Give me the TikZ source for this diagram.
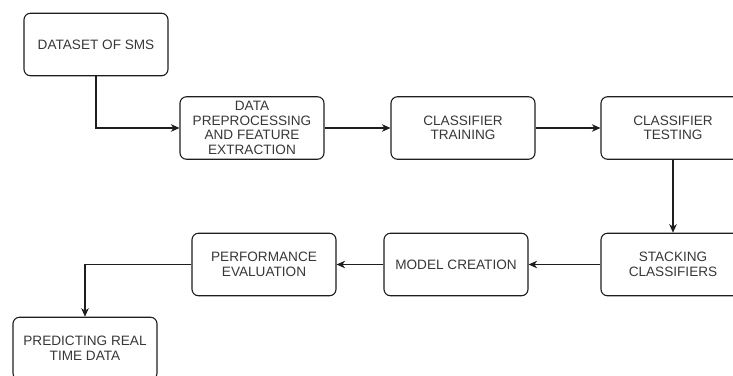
\documentclass[tikz,border=0pt]{standalone}
\usepackage{fontspec}
\setmainfont{Liberation Sans}
\usetikzlibrary{arrows.meta}
\definecolor{txt}{RGB}{55,55,55}
\definecolor{ln}{RGB}{30,30,30}
\tikzset{
  flowbox/.style={draw=ln, line width=1.1pt, rounded corners=6.5pt, minimum width=144pt, minimum height=62.5pt,
    align=center, inner sep=2pt, text=txt, font=\fontsize{13.6}{14.6}\selectfont},
  arr/.style={draw=ln, line width=1.1pt, -{Stealth[length=8.5pt,width=7.5pt,inset=2.5pt]}}
}
\begin{document}
\begin{tikzpicture}[x=1pt,y=-1pt]
\useasboundingbox (0,0) rectangle (733,375);
\clip (0,0) rectangle (733,375);
\node[flowbox] (ds) at (96,44.5) {DATASET OF SMS};
\node[flowbox] (dp) at (252,128) {DATA\\PREPROCESSING\\AND FEATURE\\EXTRACTION};
\node[flowbox] (ct) at (463,128) {CLASSIFIER\\TRAINING};
\node[flowbox] (cte) at (673,128) {CLASSIFIER\\TESTING};
\node[flowbox] (sc) at (673,264.5) {STACKING\\CLASSIFIERS};
\node[flowbox] (mc) at (456,264.5) {MODEL CREATION};
\node[flowbox] (pe) at (264,264.5) {PERFORMANCE\\EVALUATION};
\node[flowbox] (pr) at (85,348.5) {PREDICTING REAL\\TIME DATA};
\draw[arr] (ds.south) |- (dp.west);
\draw[arr] (dp.east) -- (ct.west);
\draw[arr] (ct.east) -- (cte.west);
\draw[arr] (cte.south) -- (sc.north);
\draw[arr] (sc.west) -- (mc.east);
\draw[arr] (mc.west) -- (pe.east);
\draw[arr] (pe.west) -| (pr.north);
\end{tikzpicture}
\end{document}
